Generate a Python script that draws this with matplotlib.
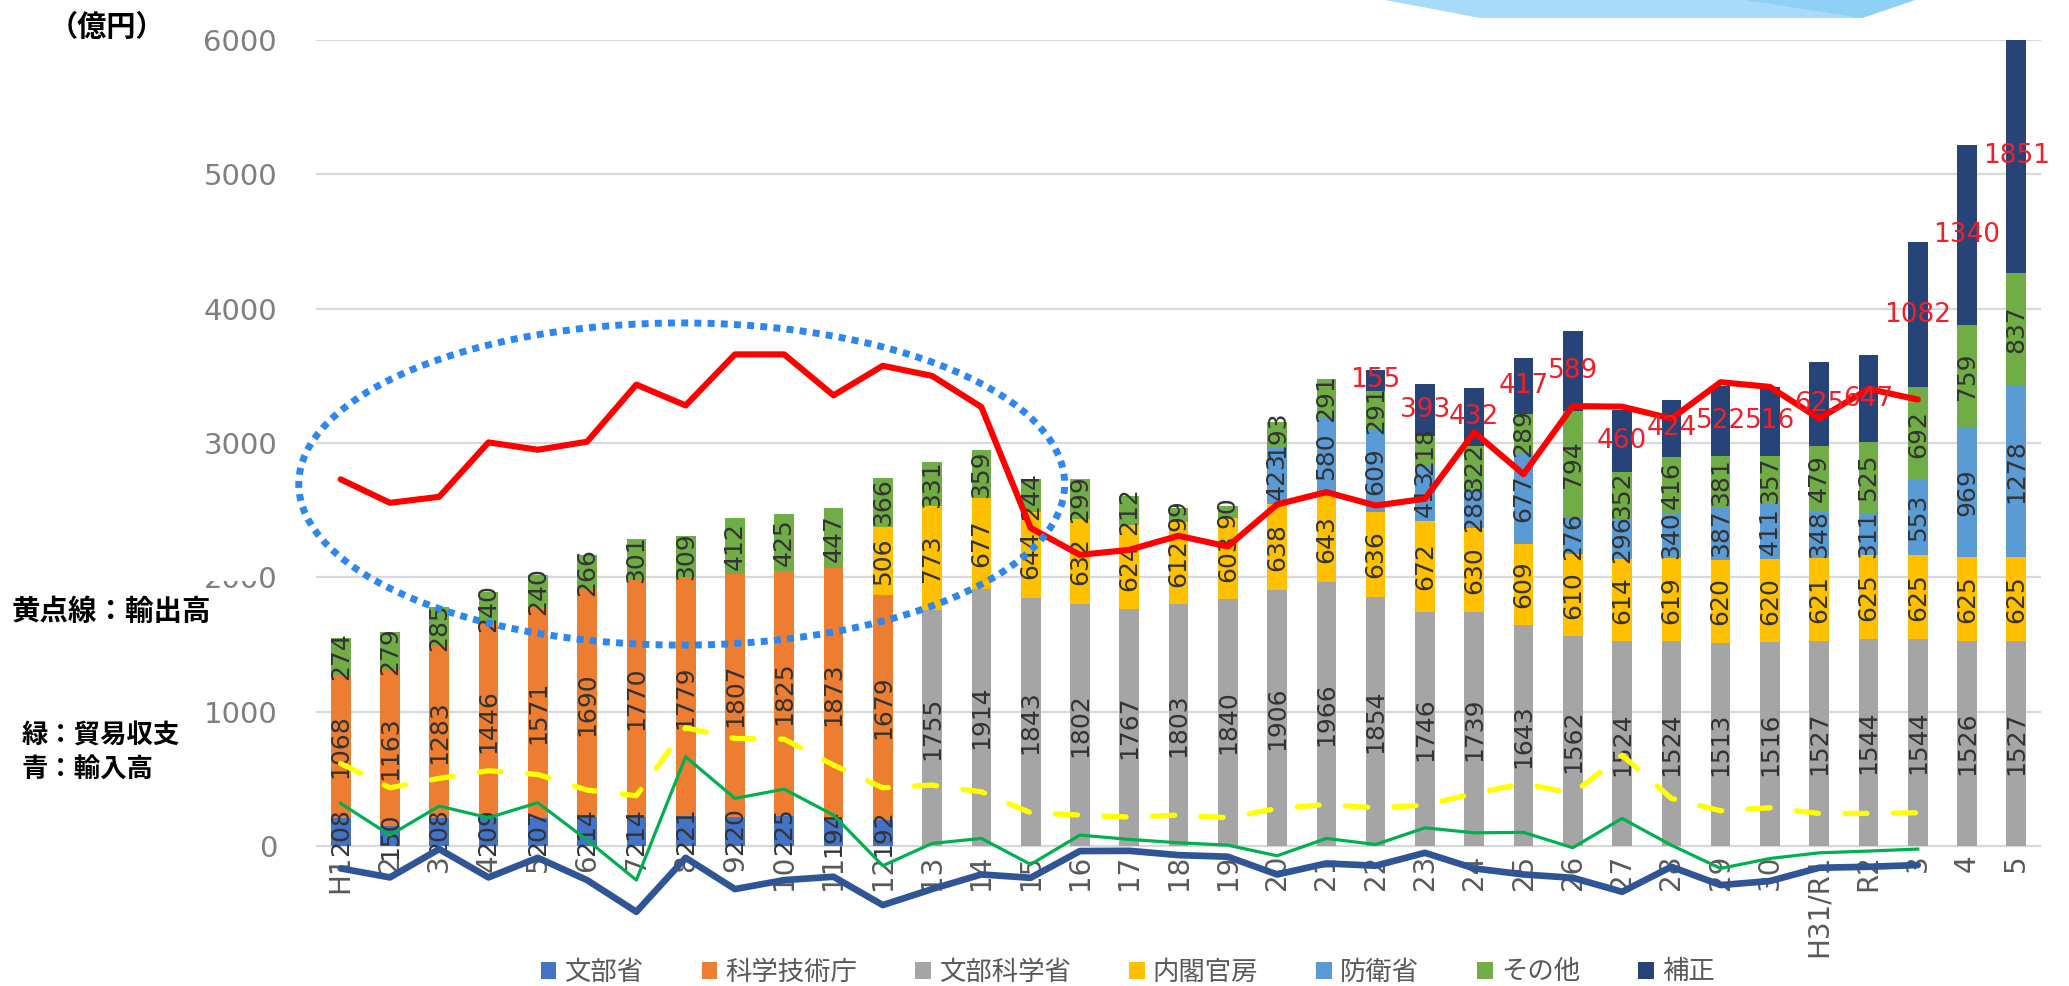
import matplotlib
matplotlib.use('Agg')
import matplotlib.pyplot as plt
import numpy as np
from matplotlib import font_manager
from matplotlib.patches import Ellipse, Polygon, Rectangle, Patch
from matplotlib.font_manager import FontProperties

plt.rcParams['font.family'] = ['DejaVu Sans', 'Noto Sans CJK JP']

categories = ['H1', '2', '3', '4', '5', '6', '7', '8', '9', '10', '11', '12', '13', '14', '15',
              '16', '17', '18', '19', '20', '21', '22', '23', '24', '25', '26', '27', '28', '29',
              '30', 'H31/R1', 'R2', '3', '4', '5']

monbu = [208, 150, 208, 209, 207, 214, 214, 221, 220, 225, 194, 192] + [0] * 23
kagaku = [1068, 1163, 1283, 1446, 1571, 1690, 1770, 1779, 1807, 1825, 1873, 1679] + [0] * 23
monka = [0] * 12 + [1755, 1914, 1843, 1802, 1767, 1803, 1840, 1906, 1966, 1854, 1746, 1739,
                    1643, 1562, 1524, 1524, 1513, 1516, 1527, 1544, 1544, 1526, 1527]
naikaku = [0] * 11 + [506, 773, 677, 644, 632, 624, 612, 603, 638, 643, 636, 672, 630, 609,
                      610, 614, 619, 620, 620, 621, 625, 625, 625, 625]
boei = [0] * 19 + [423, 580, 609, 413, 288, 677, 276, 296, 340, 387, 411, 348, 311, 553, 969, 1278]
sonota = [274, 279, 285, 240, 240, 266, 301, 309, 412, 425, 447, 366, 331, 359, 244, 299, 212,
          99, 90, 193, 291, 291, 218, 322, 289, 794, 352, 416, 381, 357, 479, 525, 692, 759, 837]
hosei = [0] * 21 + [155, 393, 432, 417, 589, 460, 424, 522, 516, 625, 647, 1082, 1340, 1851]

series_names = ['文部省', '科学技術庁', '文部科学省', '内閣官房', '防衛省', 'その他', '補正']

red_line = [2730, 2555, 2600, 3005, 2950, 3010, 3435, 3280, 3660, 3660, 3355, 3575, 3500, 3268,
            2368, 2168, 2205, 2310, 2230, 2543, 2635, 2535, 2585, 3080, 2768, 3275, 3271, 3182,
            3453, 3418, 3182, 3403, 3324]
exports = [615, 434, 504, 561, 533, 417, 375, 881, 801, 796, 603, 434, 454, 404, 248, 231, 216,
           231, 211, 280, 310, 285, 305, 392, 466, 392, 677, 355, 263, 285, 243, 243, 248]
balance = [318, 82, 298, 211, 323, 45, -253, 665, 355, 424, 231, -146, 20, 57, -136, 82, 50, 25,
           7, -72, 57, 12, 136, 99, 102, -12, 206, 7, -166, -92, -50, -37, -22]
imports = [-166, -233, -22, -233, -87, -253, -489, -87, -320, -253, -228, -439, -320, -211, -236,
           -37, -35, -67, -79, -211, -129, -146, -50, -166, -211, -236, -340, -154, -290, -260,
           -161, -154, -141]

yticks = [0, 1000, 2000, 3000, 4000, 5000, 6000]

names = {f.name for f in font_manager.fontManager.ttflist}
narrow = 'Liberation Sans Narrow' if 'Liberation Sans Narrow' in names else 'DejaVu Sans'

W, H = 2069, 986
fig = plt.figure(figsize=(W / 100, H / 100), dpi=100)
ax = fig.add_axes([316 / W, 1 - 920 / H, (2041 - 316) / W, 880 / H])

x = np.arange(len(categories))
bar_series = [monbu, kagaku, monka, naikaku, boei, sonota, hosei]
bar_colors = ['#4472C4', '#ED7D31', '#A5A5A5', '#FFC000', '#5B9BD5', '#70AD47', '#264478']

bottom = np.zeros(len(categories))
for vals, col, nm in zip(bar_series, bar_colors, series_names):
    vals = np.array(vals, dtype=float)
    bars = ax.bar(x, vals, 0.4, bottom=bottom, color=col, zorder=2, label=nm)
    labels = [str(int(v)) if v > 0 else '' for v in vals]
    if nm == '補正':
        ax.bar_label(bars, labels=labels, label_type='center', fontsize=19,
                     color='#F0202A', zorder=8, family='DejaVu Sans')
    else:
        ax.bar_label(bars, labels=labels, label_type='center', rotation=90, fontsize=18,
                     color='#333333', zorder=3, family=narrow)
    bottom = bottom + vals

xl = x[:len(red_line)]
ax.plot(xl, exports, color='#FFFF00', lw=3.8, linestyle=(0, (4.2, 5.0)),
        dash_capstyle='round', zorder=5, clip_on=False)
ax.plot(xl, balance, color='#00B050', lw=2.3, zorder=5, clip_on=False,
        solid_joinstyle='round')
ax.plot(xl, imports, color='#2F5597', lw=4.8, zorder=5, clip_on=False,
        solid_joinstyle='round', solid_capstyle='round')
ax.plot(xl, red_line, color='#FF0000', lw=4.4, zorder=6, clip_on=False,
        solid_joinstyle='round', solid_capstyle='round')

ell = Ellipse((6.92, 2695), width=2 * 7.77, height=2 * 1199, fill=False,
              edgecolor='#2E86F0', lw=5.0, linestyle=(0, (1, 0.9)), zorder=7, clip_on=False)
ell.set_capstyle('butt')
ax.add_patch(ell)

ax.set_xlim(-0.5, 34.5)
ax.set_ylim(-550, 6000)
ax.set_yticks(yticks)
ax.set_xticks(x)
ax.set_xticklabels(categories)
ax.yaxis.grid(True, color='#D9D9D9', lw=1.6)
ax.set_axisbelow(True)
for s in ['top', 'right', 'left']:
    ax.spines[s].set_visible(False)
ax.spines['bottom'].set_position(('data', 0))
ax.spines['bottom'].set_color('none')
ax.tick_params(axis='x', length=0, pad=6, labelsize=20, labelcolor='#595959', labelrotation=90)
ax.tick_params(axis='y', length=0, pad=28, labelsize=21, labelcolor='#7F7F7F')

# legend
handles = [Patch(facecolor=c, label=n) for c, n in zip(bar_colors, series_names)]
fig.legend(handles=handles, loc='center', bbox_to_anchor=(0.545, 0.0142), ncol=7,
           frameon=False, prop=FontProperties(family=['Noto Sans CJK JP', 'DejaVu Sans'], size=19),
           labelcolor='#595959', handlelength=0.6, handleheight=0.6, handletextpad=0.3,
           columnspacing=2.2)

# decorative swoosh at top right
fig.patches.append(Polygon([(1385 / W, 1), (1480 / W, 1 - 18 / H), (1862 / W, 1 - 18 / H),
                            (1915 / W, 1)], closed=True, transform=fig.transFigure,
                           facecolor='#A8DBF9', edgecolor='none', zorder=1))
fig.patches.append(Polygon([(1745 / W, 1), (1862 / W, 1 - 18 / H), (1915 / W, 1)], closed=True,
                           transform=fig.transFigure, facecolor='#8FD0F7', edgecolor='none',
                           zorder=1))

# white mask partially covering the 2000 label
fig.patches.append(Rectangle((0, 1 - 581 / H), 258 / W, 24 / H, transform=fig.transFigure,
                             facecolor='white', edgecolor='none', zorder=10))

jp = ['Noto Sans CJK JP', 'DejaVu Sans']
fig.text(107 / W, 1 - 27 / H, '（億円）', ha='center', va='center', fontsize=21,
         fontweight='bold', family=jp, color='black')
fig.text(12 / W, 1 - 612 / H, '黄点線：輸出高', ha='left', va='center', fontsize=20.5,
         fontweight='bold', family=jp, color='black', zorder=11)
fig.text(22 / W, 1 - 736 / H, '緑：貿易収支', ha='left', va='center', fontsize=19,
         fontweight='bold', family=jp, color='black')
fig.text(22 / W, 1 - 770 / H, '青：輸入高', ha='left', va='center', fontsize=19,
         fontweight='bold', family=jp, color='black')

fig.savefig('out.png', dpi=100, facecolor='white')
